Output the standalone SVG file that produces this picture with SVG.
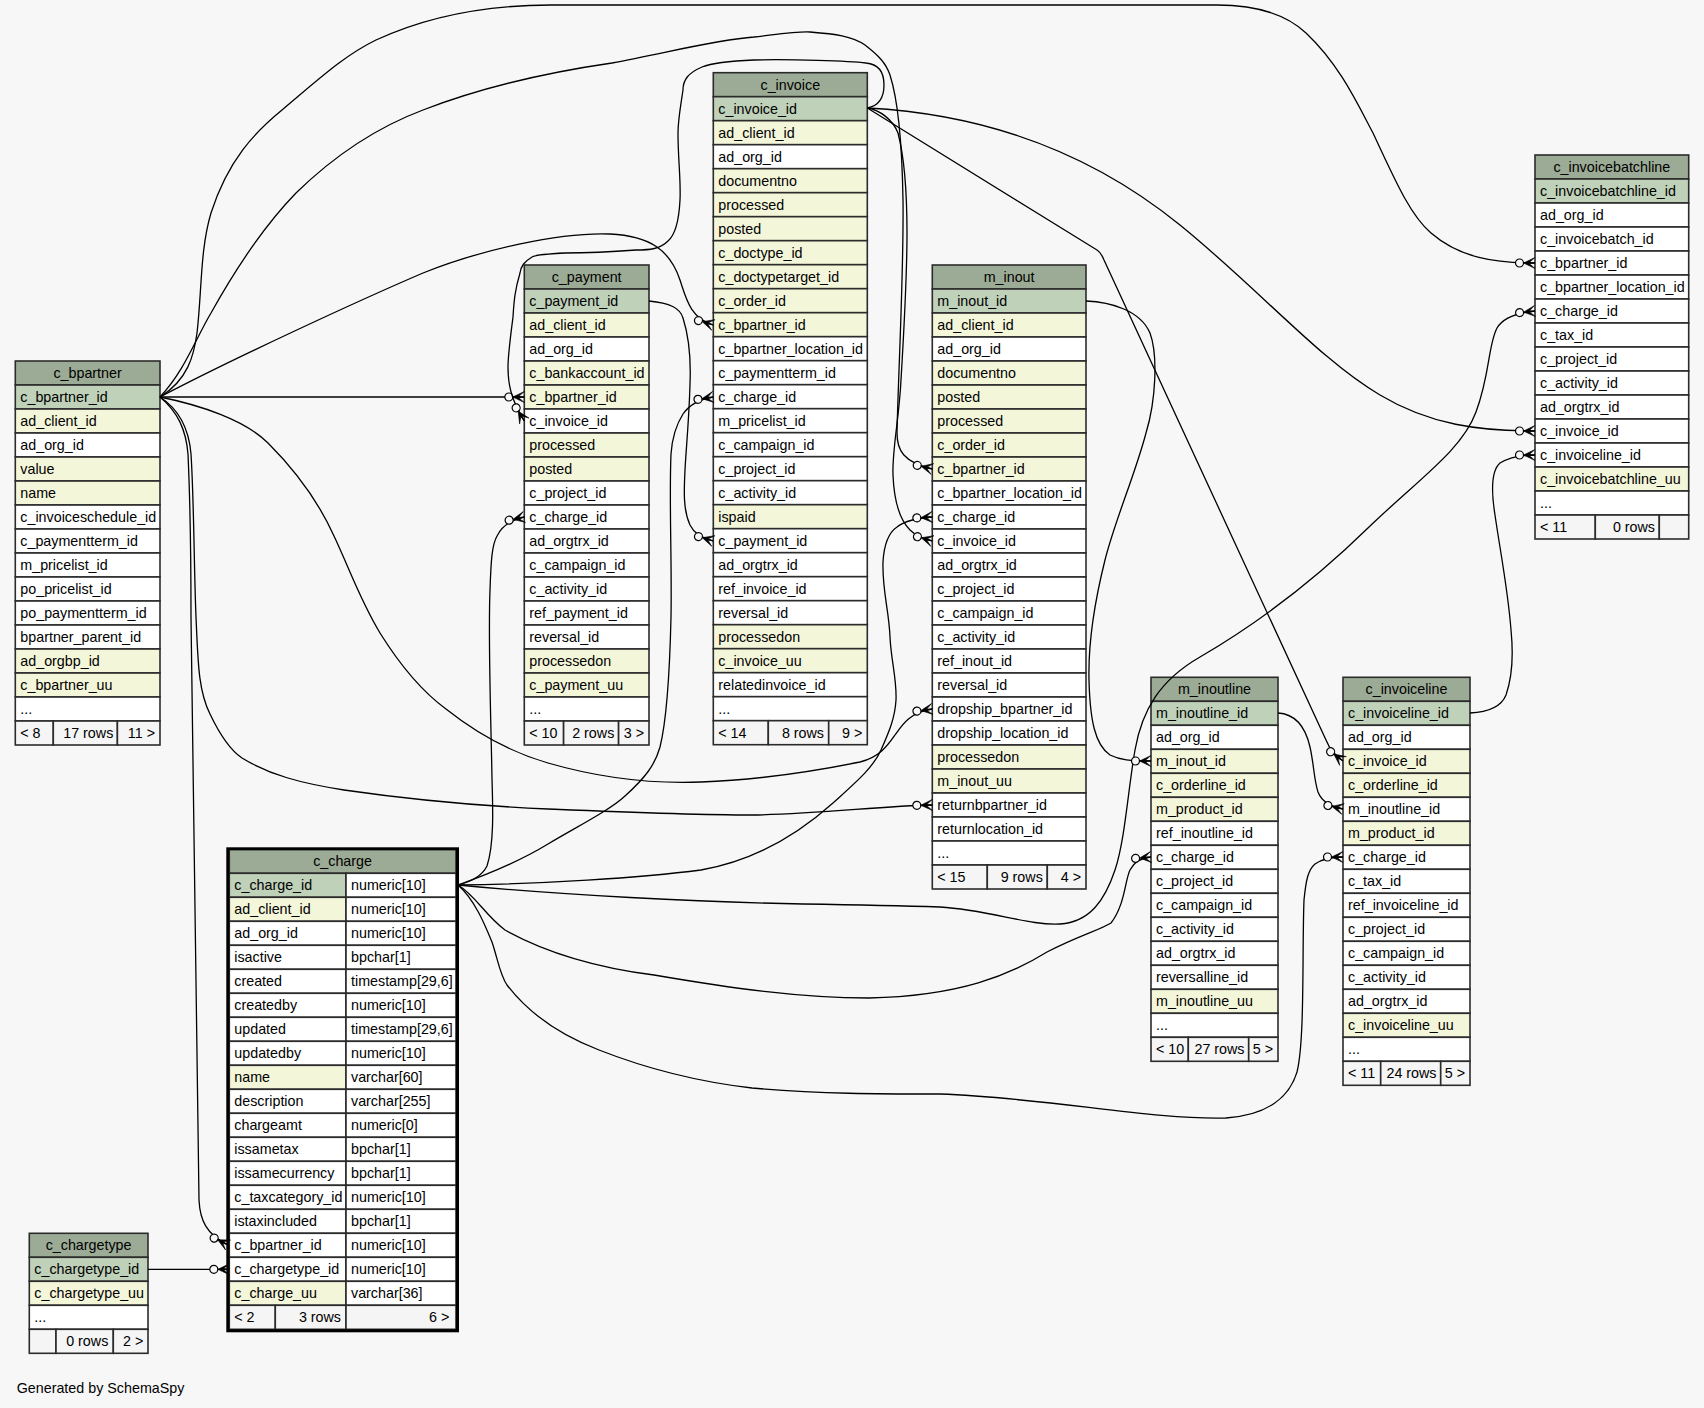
<svg xmlns="http://www.w3.org/2000/svg" width="1704" height="1408" viewBox="0 0 1704 1408">
<defs>
<style>
.t rect{stroke:#2b2b2b;stroke-width:1.6}
.h{fill:#9cab95}
.k{fill:#bfd1b9}
.x{fill:#f4f6da}
.w{fill:#ffffff}
.f{fill:#f5f5f5}
text{font-family:"Liberation Sans",Arial,Helvetica,sans-serif;font-size:14.3px;fill:#000}
.c{text-anchor:middle}
.r{text-anchor:end}
.e path{fill:none;stroke:#000;stroke-width:1.3;marker-end:url(#cf)}
</style>
<marker id="cf" viewBox="0 0 24 16" markerWidth="24" markerHeight="16" refX="22.5" refY="8" orient="auto" markerUnits="userSpaceOnUse">
<circle cx="7" cy="8" r="4" fill="#f7f7f7" stroke="#000" stroke-width="1.2"/>
<path d="M11,8 L22.5,2.5 L17,7.3 L22.5,8 L17,8.7 L22.5,13.5 Z" fill="#000" stroke="#000" stroke-width="0.6"/>
</marker>
</defs>
<rect width="1704" height="1408" fill="#f7f7f7"/>

<g id="c_bpartner" class="t" transform="translate(15.3,361)">
<rect class="h" width="144.7" height="24"/><text x="72.3" y="17" class="c">c_bpartner</text>
<rect class="k" y="24" width="144.7" height="24"/><text x="5" y="41">c_bpartner_id</text>
<rect class="x" y="48" width="144.7" height="24"/><text x="5" y="65">ad_client_id</text>
<rect class="w" y="72" width="144.7" height="24"/><text x="5" y="89">ad_org_id</text>
<rect class="x" y="96" width="144.7" height="24"/><text x="5" y="113">value</text>
<rect class="x" y="120" width="144.7" height="24"/><text x="5" y="137">name</text>
<rect class="w" y="144" width="144.7" height="24"/><text x="5" y="161">c_invoiceschedule_id</text>
<rect class="w" y="168" width="144.7" height="24"/><text x="5" y="185">c_paymentterm_id</text>
<rect class="w" y="192" width="144.7" height="24"/><text x="5" y="209">m_pricelist_id</text>
<rect class="w" y="216" width="144.7" height="24"/><text x="5" y="233">po_pricelist_id</text>
<rect class="w" y="240" width="144.7" height="24"/><text x="5" y="257">po_paymentterm_id</text>
<rect class="w" y="264" width="144.7" height="24"/><text x="5" y="281">bpartner_parent_id</text>
<rect class="x" y="288" width="144.7" height="24"/><text x="5" y="305">ad_orgbp_id</text>
<rect class="x" y="312" width="144.7" height="24"/><text x="5" y="329">c_bpartner_uu</text>
<rect class="w" y="336" width="144.7" height="24"/><text x="5" y="353">...</text>
<rect class="f" y="360" width="38" height="24"/><rect class="f" x="38" y="360" width="64.1" height="24"/><rect class="f" x="102.1" y="360" width="42.6" height="24"/>
<text x="5" y="377">&lt; 8</text><text x="98" y="377" class="r">17 rows</text><text x="139.7" y="377" class="r">11 &gt;</text>
</g>

<g id="c_payment" class="t" transform="translate(524.3,265)">
<rect class="h" width="124.7" height="24"/><text x="62.3" y="17" class="c">c_payment</text>
<rect class="k" y="24" width="124.7" height="24"/><text x="5" y="41">c_payment_id</text>
<rect class="x" y="48" width="124.7" height="24"/><text x="5" y="65">ad_client_id</text>
<rect class="w" y="72" width="124.7" height="24"/><text x="5" y="89">ad_org_id</text>
<rect class="x" y="96" width="124.7" height="24"/><text x="5" y="113">c_bankaccount_id</text>
<rect class="x" y="120" width="124.7" height="24"/><text x="5" y="137">c_bpartner_id</text>
<rect class="w" y="144" width="124.7" height="24"/><text x="5" y="161">c_invoice_id</text>
<rect class="x" y="168" width="124.7" height="24"/><text x="5" y="185">processed</text>
<rect class="x" y="192" width="124.7" height="24"/><text x="5" y="209">posted</text>
<rect class="w" y="216" width="124.7" height="24"/><text x="5" y="233">c_project_id</text>
<rect class="w" y="240" width="124.7" height="24"/><text x="5" y="257">c_charge_id</text>
<rect class="w" y="264" width="124.7" height="24"/><text x="5" y="281">ad_orgtrx_id</text>
<rect class="w" y="288" width="124.7" height="24"/><text x="5" y="305">c_campaign_id</text>
<rect class="w" y="312" width="124.7" height="24"/><text x="5" y="329">c_activity_id</text>
<rect class="w" y="336" width="124.7" height="24"/><text x="5" y="353">ref_payment_id</text>
<rect class="w" y="360" width="124.7" height="24"/><text x="5" y="377">reversal_id</text>
<rect class="x" y="384" width="124.7" height="24"/><text x="5" y="401">processedon</text>
<rect class="x" y="408" width="124.7" height="24"/><text x="5" y="425">c_payment_uu</text>
<rect class="w" y="432" width="124.7" height="24"/><text x="5" y="449">...</text>
<rect class="f" y="456" width="39.3" height="24"/><rect class="f" x="39.3" y="456" width="55" height="24"/><rect class="f" x="94.3" y="456" width="30.4" height="24"/>
<text x="5" y="473">&lt; 10</text><text x="90" y="473" class="r">2 rows</text><text x="119.7" y="473" class="r">3 &gt;</text>
</g>

<g id="c_invoice" class="t" transform="translate(713.3,72.7)">
<rect class="h" width="154" height="24"/><text x="77" y="17" class="c">c_invoice</text>
<rect class="k" y="24" width="154" height="24"/><text x="5" y="41">c_invoice_id</text>
<rect class="x" y="48" width="154" height="24"/><text x="5" y="65">ad_client_id</text>
<rect class="w" y="72" width="154" height="24"/><text x="5" y="89">ad_org_id</text>
<rect class="x" y="96" width="154" height="24"/><text x="5" y="113">documentno</text>
<rect class="x" y="120" width="154" height="24"/><text x="5" y="137">processed</text>
<rect class="x" y="144" width="154" height="24"/><text x="5" y="161">posted</text>
<rect class="x" y="168" width="154" height="24"/><text x="5" y="185">c_doctype_id</text>
<rect class="x" y="192" width="154" height="24"/><text x="5" y="209">c_doctypetarget_id</text>
<rect class="x" y="216" width="154" height="24"/><text x="5" y="233">c_order_id</text>
<rect class="x" y="240" width="154" height="24"/><text x="5" y="257">c_bpartner_id</text>
<rect class="w" y="264" width="154" height="24"/><text x="5" y="281">c_bpartner_location_id</text>
<rect class="w" y="288" width="154" height="24"/><text x="5" y="305">c_paymentterm_id</text>
<rect class="w" y="312" width="154" height="24"/><text x="5" y="329">c_charge_id</text>
<rect class="w" y="336" width="154" height="24"/><text x="5" y="353">m_pricelist_id</text>
<rect class="w" y="360" width="154" height="24"/><text x="5" y="377">c_campaign_id</text>
<rect class="w" y="384" width="154" height="24"/><text x="5" y="401">c_project_id</text>
<rect class="w" y="408" width="154" height="24"/><text x="5" y="425">c_activity_id</text>
<rect class="x" y="432" width="154" height="24"/><text x="5" y="449">ispaid</text>
<rect class="w" y="456" width="154" height="24"/><text x="5" y="473">c_payment_id</text>
<rect class="w" y="480" width="154" height="24"/><text x="5" y="497">ad_orgtrx_id</text>
<rect class="w" y="504" width="154" height="24"/><text x="5" y="521">ref_invoice_id</text>
<rect class="w" y="528" width="154" height="24"/><text x="5" y="545">reversal_id</text>
<rect class="x" y="552" width="154" height="24"/><text x="5" y="569">processedon</text>
<rect class="x" y="576" width="154" height="24"/><text x="5" y="593">c_invoice_uu</text>
<rect class="w" y="600" width="154" height="24"/><text x="5" y="617">relatedinvoice_id</text>
<rect class="w" y="624" width="154" height="24"/><text x="5" y="641">...</text>
<rect class="f" y="648" width="55" height="24"/><rect class="f" x="55" y="648" width="60.4" height="24"/><rect class="f" x="115.4" y="648" width="38.6" height="24"/>
<text x="5" y="665">&lt; 14</text><text x="110.7" y="665" class="r">8 rows</text><text x="149" y="665" class="r">9 &gt;</text>
</g>

<g id="m_inout" class="t" transform="translate(932.3,265)">
<rect class="h" width="153.7" height="24"/><text x="76.8" y="17" class="c">m_inout</text>
<rect class="k" y="24" width="153.7" height="24"/><text x="5" y="41">m_inout_id</text>
<rect class="x" y="48" width="153.7" height="24"/><text x="5" y="65">ad_client_id</text>
<rect class="w" y="72" width="153.7" height="24"/><text x="5" y="89">ad_org_id</text>
<rect class="x" y="96" width="153.7" height="24"/><text x="5" y="113">documentno</text>
<rect class="x" y="120" width="153.7" height="24"/><text x="5" y="137">posted</text>
<rect class="x" y="144" width="153.7" height="24"/><text x="5" y="161">processed</text>
<rect class="x" y="168" width="153.7" height="24"/><text x="5" y="185">c_order_id</text>
<rect class="x" y="192" width="153.7" height="24"/><text x="5" y="209">c_bpartner_id</text>
<rect class="w" y="216" width="153.7" height="24"/><text x="5" y="233">c_bpartner_location_id</text>
<rect class="w" y="240" width="153.7" height="24"/><text x="5" y="257">c_charge_id</text>
<rect class="w" y="264" width="153.7" height="24"/><text x="5" y="281">c_invoice_id</text>
<rect class="w" y="288" width="153.7" height="24"/><text x="5" y="305">ad_orgtrx_id</text>
<rect class="w" y="312" width="153.7" height="24"/><text x="5" y="329">c_project_id</text>
<rect class="w" y="336" width="153.7" height="24"/><text x="5" y="353">c_campaign_id</text>
<rect class="w" y="360" width="153.7" height="24"/><text x="5" y="377">c_activity_id</text>
<rect class="w" y="384" width="153.7" height="24"/><text x="5" y="401">ref_inout_id</text>
<rect class="w" y="408" width="153.7" height="24"/><text x="5" y="425">reversal_id</text>
<rect class="w" y="432" width="153.7" height="24"/><text x="5" y="449">dropship_bpartner_id</text>
<rect class="w" y="456" width="153.7" height="24"/><text x="5" y="473">dropship_location_id</text>
<rect class="x" y="480" width="153.7" height="24"/><text x="5" y="497">processedon</text>
<rect class="x" y="504" width="153.7" height="24"/><text x="5" y="521">m_inout_uu</text>
<rect class="w" y="528" width="153.7" height="24"/><text x="5" y="545">returnbpartner_id</text>
<rect class="w" y="552" width="153.7" height="24"/><text x="5" y="569">returnlocation_id</text>
<rect class="w" y="576" width="153.7" height="24"/><text x="5" y="593">...</text>
<rect class="f" y="600" width="55" height="24"/><rect class="f" x="55" y="600" width="60" height="24"/><rect class="f" x="115" y="600" width="38.7" height="24"/>
<text x="5" y="617">&lt; 15</text><text x="110.5" y="617" class="r">9 rows</text><text x="148.7" y="617" class="r">4 &gt;</text>
</g>

<g id="c_invoicebatchline" class="t" transform="translate(1535,155)">
<rect class="h" width="153.7" height="24"/><text x="76.8" y="17" class="c">c_invoicebatchline</text>
<rect class="k" y="24" width="153.7" height="24"/><text x="5" y="41">c_invoicebatchline_id</text>
<rect class="w" y="48" width="153.7" height="24"/><text x="5" y="65">ad_org_id</text>
<rect class="w" y="72" width="153.7" height="24"/><text x="5" y="89">c_invoicebatch_id</text>
<rect class="w" y="96" width="153.7" height="24"/><text x="5" y="113">c_bpartner_id</text>
<rect class="w" y="120" width="153.7" height="24"/><text x="5" y="137">c_bpartner_location_id</text>
<rect class="w" y="144" width="153.7" height="24"/><text x="5" y="161">c_charge_id</text>
<rect class="w" y="168" width="153.7" height="24"/><text x="5" y="185">c_tax_id</text>
<rect class="w" y="192" width="153.7" height="24"/><text x="5" y="209">c_project_id</text>
<rect class="w" y="216" width="153.7" height="24"/><text x="5" y="233">c_activity_id</text>
<rect class="w" y="240" width="153.7" height="24"/><text x="5" y="257">ad_orgtrx_id</text>
<rect class="w" y="264" width="153.7" height="24"/><text x="5" y="281">c_invoice_id</text>
<rect class="w" y="288" width="153.7" height="24"/><text x="5" y="305">c_invoiceline_id</text>
<rect class="x" y="312" width="153.7" height="24"/><text x="5" y="329">c_invoicebatchline_uu</text>
<rect class="w" y="336" width="153.7" height="24"/><text x="5" y="353">...</text>
<rect class="f" y="360" width="60.3" height="24"/><rect class="f" x="60.3" y="360" width="64" height="24"/><rect class="f" x="124.3" y="360" width="29.4" height="24"/>
<text x="5" y="377">&lt; 11</text><text x="120" y="377" class="r">0 rows</text>
</g>

<g id="m_inoutline" class="t" transform="translate(1151,677.3)">
<rect class="h" width="127" height="24"/><text x="63.5" y="17" class="c">m_inoutline</text>
<rect class="k" y="24" width="127" height="24"/><text x="5" y="41">m_inoutline_id</text>
<rect class="w" y="48" width="127" height="24"/><text x="5" y="65">ad_org_id</text>
<rect class="x" y="72" width="127" height="24"/><text x="5" y="89">m_inout_id</text>
<rect class="x" y="96" width="127" height="24"/><text x="5" y="113">c_orderline_id</text>
<rect class="x" y="120" width="127" height="24"/><text x="5" y="137">m_product_id</text>
<rect class="w" y="144" width="127" height="24"/><text x="5" y="161">ref_inoutline_id</text>
<rect class="w" y="168" width="127" height="24"/><text x="5" y="185">c_charge_id</text>
<rect class="w" y="192" width="127" height="24"/><text x="5" y="209">c_project_id</text>
<rect class="w" y="216" width="127" height="24"/><text x="5" y="233">c_campaign_id</text>
<rect class="w" y="240" width="127" height="24"/><text x="5" y="257">c_activity_id</text>
<rect class="w" y="264" width="127" height="24"/><text x="5" y="281">ad_orgtrx_id</text>
<rect class="w" y="288" width="127" height="24"/><text x="5" y="305">reversalline_id</text>
<rect class="x" y="312" width="127" height="24"/><text x="5" y="329">m_inoutline_uu</text>
<rect class="w" y="336" width="127" height="24"/><text x="5" y="353">...</text>
<rect class="f" y="360" width="37.3" height="24"/><rect class="f" x="37.3" y="360" width="60.4" height="24"/><rect class="f" x="97.7" y="360" width="29.3" height="24"/>
<text x="5" y="377">&lt; 10</text><text x="93.5" y="377" class="r">27 rows</text><text x="122" y="377" class="r">5 &gt;</text>
</g>

<g id="c_invoiceline" class="t" transform="translate(1343,677.3)">
<rect class="h" width="127" height="24"/><text x="63.5" y="17" class="c">c_invoiceline</text>
<rect class="k" y="24" width="127" height="24"/><text x="5" y="41">c_invoiceline_id</text>
<rect class="w" y="48" width="127" height="24"/><text x="5" y="65">ad_org_id</text>
<rect class="x" y="72" width="127" height="24"/><text x="5" y="89">c_invoice_id</text>
<rect class="x" y="96" width="127" height="24"/><text x="5" y="113">c_orderline_id</text>
<rect class="w" y="120" width="127" height="24"/><text x="5" y="137">m_inoutline_id</text>
<rect class="x" y="144" width="127" height="24"/><text x="5" y="161">m_product_id</text>
<rect class="w" y="168" width="127" height="24"/><text x="5" y="185">c_charge_id</text>
<rect class="w" y="192" width="127" height="24"/><text x="5" y="209">c_tax_id</text>
<rect class="w" y="216" width="127" height="24"/><text x="5" y="233">ref_invoiceline_id</text>
<rect class="w" y="240" width="127" height="24"/><text x="5" y="257">c_project_id</text>
<rect class="w" y="264" width="127" height="24"/><text x="5" y="281">c_campaign_id</text>
<rect class="w" y="288" width="127" height="24"/><text x="5" y="305">c_activity_id</text>
<rect class="w" y="312" width="127" height="24"/><text x="5" y="329">ad_orgtrx_id</text>
<rect class="x" y="336" width="127" height="24"/><text x="5" y="353">c_invoiceline_uu</text>
<rect class="w" y="360" width="127" height="24"/><text x="5" y="377">...</text>
<rect class="f" y="384" width="37.7" height="24"/><rect class="f" x="37.7" y="384" width="60" height="24"/><rect class="f" x="97.7" y="384" width="29.3" height="24"/>
<text x="5" y="401">&lt; 11</text><text x="93.5" y="401" class="r">24 rows</text><text x="122" y="401" class="r">5 &gt;</text>
</g>

<g id="c_chargetype" class="t" transform="translate(29.3,1233.3)">
<rect class="h" width="118.7" height="24"/><text x="59.3" y="17" class="c">c_chargetype</text>
<rect class="k" y="24" width="118.7" height="24"/><text x="5" y="41">c_chargetype_id</text>
<rect class="x" y="48" width="118.7" height="24"/><text x="5" y="65">c_chargetype_uu</text>
<rect class="w" y="72" width="118.7" height="24"/><text x="5" y="89">...</text>
<rect class="f" y="96" width="26.7" height="24"/><rect class="f" x="26.7" y="96" width="57.3" height="24"/><rect class="f" x="84" y="96" width="34.7" height="24"/>
<text x="79" y="113" class="r">0 rows</text><text x="114" y="113" class="r">2 &gt;</text>
</g>

<g id="c_charge" class="t" transform="translate(229.3,849.3)">
<rect class="h" width="226.7" height="24"/><text x="113.3" y="17" class="c">c_charge</text>
<rect class="k" y="24" width="116.7" height="24"/><rect class="w" x="116.7" y="24" width="110" height="24"/><text x="5" y="41">c_charge_id</text><text x="121.7" y="41">numeric[10]</text>
<rect class="x" y="48" width="116.7" height="24"/><rect class="w" x="116.7" y="48" width="110" height="24"/><text x="5" y="65">ad_client_id</text><text x="121.7" y="65">numeric[10]</text>
<rect class="w" y="72" width="116.7" height="24"/><rect class="w" x="116.7" y="72" width="110" height="24"/><text x="5" y="89">ad_org_id</text><text x="121.7" y="89">numeric[10]</text>
<rect class="w" y="96" width="116.7" height="24"/><rect class="w" x="116.7" y="96" width="110" height="24"/><text x="5" y="113">isactive</text><text x="121.7" y="113">bpchar[1]</text>
<rect class="w" y="120" width="116.7" height="24"/><rect class="w" x="116.7" y="120" width="110" height="24"/><text x="5" y="137">created</text><text x="121.7" y="137">timestamp[29,6]</text>
<rect class="w" y="144" width="116.7" height="24"/><rect class="w" x="116.7" y="144" width="110" height="24"/><text x="5" y="161">createdby</text><text x="121.7" y="161">numeric[10]</text>
<rect class="w" y="168" width="116.7" height="24"/><rect class="w" x="116.7" y="168" width="110" height="24"/><text x="5" y="185">updated</text><text x="121.7" y="185">timestamp[29,6]</text>
<rect class="w" y="192" width="116.7" height="24"/><rect class="w" x="116.7" y="192" width="110" height="24"/><text x="5" y="209">updatedby</text><text x="121.7" y="209">numeric[10]</text>
<rect class="x" y="216" width="116.7" height="24"/><rect class="w" x="116.7" y="216" width="110" height="24"/><text x="5" y="233">name</text><text x="121.7" y="233">varchar[60]</text>
<rect class="w" y="240" width="116.7" height="24"/><rect class="w" x="116.7" y="240" width="110" height="24"/><text x="5" y="257">description</text><text x="121.7" y="257">varchar[255]</text>
<rect class="w" y="264" width="116.7" height="24"/><rect class="w" x="116.7" y="264" width="110" height="24"/><text x="5" y="281">chargeamt</text><text x="121.7" y="281">numeric[0]</text>
<rect class="w" y="288" width="116.7" height="24"/><rect class="w" x="116.7" y="288" width="110" height="24"/><text x="5" y="305">issametax</text><text x="121.7" y="305">bpchar[1]</text>
<rect class="w" y="312" width="116.7" height="24"/><rect class="w" x="116.7" y="312" width="110" height="24"/><text x="5" y="329">issamecurrency</text><text x="121.7" y="329">bpchar[1]</text>
<rect class="w" y="336" width="116.7" height="24"/><rect class="w" x="116.7" y="336" width="110" height="24"/><text x="5" y="353">c_taxcategory_id</text><text x="121.7" y="353">numeric[10]</text>
<rect class="w" y="360" width="116.7" height="24"/><rect class="w" x="116.7" y="360" width="110" height="24"/><text x="5" y="377">istaxincluded</text><text x="121.7" y="377">bpchar[1]</text>
<rect class="w" y="384" width="116.7" height="24"/><rect class="w" x="116.7" y="384" width="110" height="24"/><text x="5" y="401">c_bpartner_id</text><text x="121.7" y="401">numeric[10]</text>
<rect class="w" y="408" width="116.7" height="24"/><rect class="w" x="116.7" y="408" width="110" height="24"/><text x="5" y="425">c_chargetype_id</text><text x="121.7" y="425">numeric[10]</text>
<rect class="x" y="432" width="116.7" height="24"/><rect class="w" x="116.7" y="432" width="110" height="24"/><text x="5" y="449">c_charge_uu</text><text x="121.7" y="449">varchar[36]</text>
<rect class="f" y="456" width="46" height="24"/><rect class="f" x="46" y="456" width="70.7" height="24"/><rect class="f" x="116.7" y="456" width="110" height="24"/>
<text x="5" y="473">&lt; 2</text><text x="111.7" y="473" class="r">3 rows</text><text x="220" y="473" class="r">6 &gt;</text>
<rect x="-1.5" y="-0.5" width="229.7" height="482" fill="none" style="stroke:#000;stroke-width:3"/>
</g>

<g id="connectors" class="e">
<path d="M160,397 C188,380 194,355 197,333 C202,290 200,250 211,213 C228,160 255,132 282,110 C320,78 345,55 376,40 C430,15 490,5 551,5 L1217,5 C1262,5 1290,18 1306,33 C1340,65 1358,105 1373,133 C1395,180 1410,215 1431,233 C1460,258 1495,263 1535,263"/>
<path d="M160,397 L524.3,397"/>
<path d="M160,397 C230,360 360,300 423,273 C480,250 560,232 610,234 C650,236 670,250 680,280 C686,298 690,318 713.3,325"/>
<path d="M160,397 C185,370 195,340 211,313 C235,270 262,228 296,193 C335,155 375,128 423,110 C480,88 550,72 612,63 C670,52 715,40 754,37 C780,34 800,31 810,32 C835,34 852,36 865,45 C878,55 886,63 890,75 C898,100 902,140 903,200 C904,270 898,380 897,433 C897,450 903,462 932.3,469"/>
<path d="M160,397 C200,405 245,420 268,443 C300,475 320,505 334,536 C350,570 360,600 380,633 C400,665 420,690 446,709 C475,732 510,752 548,763 C600,778 650,784 701,782 C760,780 820,770 860,762 C880,757 888,745 895,735 C902,725 910,712 932.3,709"/>
<path d="M160,397 C180,410 189,430 191,454 C194,500 194,570 196,617 C198,660 198,690 210,714 C220,735 230,750 242,758 C270,775 300,783 344,790 C420,801 480,806 548,809 C620,812 690,815 752,815 C820,814 880,806 932.3,805"/>
<path d="M160,397 C178,412 186,430 188,454 C191,520 191,580 191,617 C192,800 196,1000 199,1200 C200,1220 206,1234 228,1245"/>
<path d="M867.3,108 C878,106 884,98 884,85 C884,72 878,64 866,63 C850,61 790,59 754,60 C730,61 712,63 702,67 C688,73 683,80 683,90 C680,110 678,120 678,133 C678,160 681,180 680,200 C679,220 675,235 668,241 C660,249 650,250 636,250 C610,252 580,253 565,253 C545,254 535,255 532,257 C524,262 521,266 520,273 C515,290 514,300 513,317 C510,340 508,355 508,367 C508,382 510,398 524.3,421"/>
<path d="M867.3,108 C880,110 893,120 898,133 C905,160 907,200 907,233 C907,280 904,330 901,380 C899,420 892,450 893,475 C894,500 900,520 910,530 C916,536 922,538 932.3,541"/>
<path d="M867.3,108 C1000,115 1100,160 1180,225 C1260,290 1320,360 1380,395 C1430,425 1480,431 1535,431"/>
<path d="M867.3,108 L1097,250 C1100,252 1102,255 1104,260 L1326,740 C1330,750 1335,755 1343,761"/>
<path d="M649,301 C670,303 680,308 683,318 C690,340 691,360 690,384 C689,420 686,450 685,470 C684,490 683,510 690,525 C694,533 700,537 713.3,541"/>
<path d="M458,885 C470,882 482,876 487,866 C494,845 493,810 492,779 C491,720 488,640 490,590 C491,560 492,545 497,536 C502,526 510,520 524.3,517"/>
<path d="M458,885 C500,870 530,855 548,844 C580,825 610,810 625,796 C645,778 655,765 660,747 C668,715 670,660 671,617 C672,560 669,500 671,454 C672,440 676,425 683,414 C690,404 700,399 713.3,397"/>
<path d="M458,885 C540,884 640,878 701,870 C760,860 805,828 833,803 C855,783 873,768 881,750 C889,732 895,718 896,700 C897,680 891,660 890,637 C889,610 882,590 883,562 C884,545 888,533 897,527 C905,521 915,518 932.3,517"/>
<path d="M458,885 C475,895 485,915 505,930 C550,955 600,968 654,975 C730,988 800,998 869,998 C960,996 1010,975 1047,952 C1080,935 1100,930 1111,923 C1125,905 1125,880 1130,870 C1134,862 1140,858 1151,857"/>
<path d="M458,885 C475,900 485,925 492,942 C498,960 500,975 507,985 C530,1015 560,1035 599,1050 C650,1070 700,1082 752,1088 C820,1094 880,1094 940,1094 C1050,1098 1150,1120 1226,1118 C1270,1115 1290,1095 1297,1072 C1305,1040 1302,950 1304,900 C1306,880 1308,870 1315,864 C1322,859 1330,857 1343,857"/>
<path d="M458,885 C560,895 700,902 803,904 C870,905 910,906 940,907 C990,910 1030,926 1060,924 C1090,922 1105,900 1115,870 C1125,840 1128,790 1135,750 C1142,710 1160,680 1200,657 C1260,622 1320,575 1369,527 C1420,478 1462,450 1476,412 C1490,375 1488,345 1497,328 C1503,318 1515,313 1535,311"/>
<path d="M1086,301 C1110,302 1140,310 1150,333 C1158,355 1156,400 1146,433 C1135,475 1115,520 1105,560 C1095,600 1088,640 1089,680 C1090,720 1095,745 1110,755 C1120,760 1130,761 1151,761"/>
<path d="M1278,713 C1295,714 1305,725 1310,747 C1314,765 1314,780 1318,792 C1322,802 1330,806 1343,809"/>
<path d="M1470,713 C1490,712 1502,705 1506,695 C1513,675 1513,650 1511,630 C1508,590 1500,550 1495,515 C1491,490 1492,470 1500,463 C1510,457 1520,455 1535,455"/>
<path d="M148,1269.3 L229.3,1269.3"/>
</g>

<text x="16.7" y="1393">Generated by SchemaSpy</text>
</svg>
